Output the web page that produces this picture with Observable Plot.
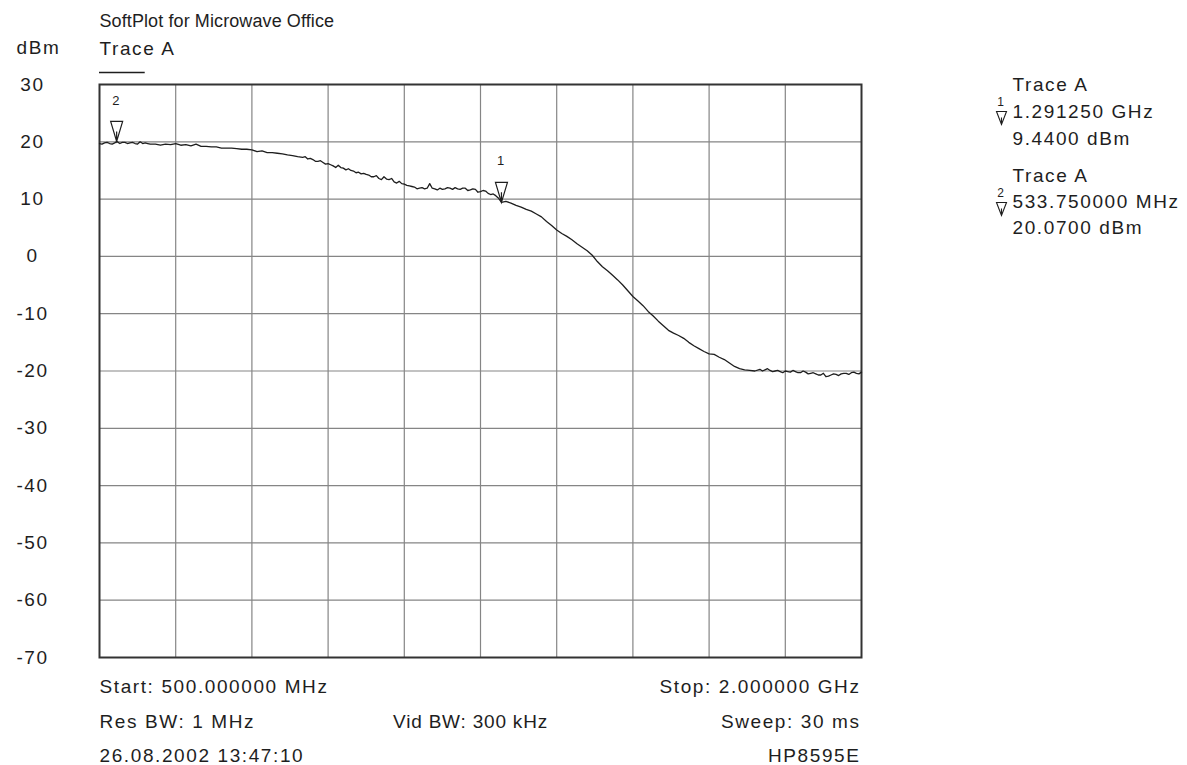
<!DOCTYPE html>
<html>
<head>
<meta charset="utf-8">
<script src="https://cdn.jsdelivr.net/npm/d3@7"></script>
<script src="https://cdn.jsdelivr.net/npm/@observablehq/plot@0.6"></script>
<style>
  html, body { margin: 0; padding: 0; background: #ffffff; }
  #chart { width: 1187px; height: 765px; }
</style>
</head>
<body>
<div id="chart"></div>
<script>
// ---------- data: [frequency MHz, level dBm] ----------
const traceSamples = [
  [500, 19.7], [505, 19.6], [510, 19.8], [515, 19.9], [520, 19.7], [525, 19.6], [530, 19.8], [533.75, 20.07],
  [540, 19.7], [545, 19.9], [550, 19.9], [555, 19.7], [560, 19.8], [565, 19.9], [570, 19.7], [575, 19.6],
  [580, 20.0], [585, 19.7], [590, 19.8], [595, 19.7],
  [600, 19.6], [610, 19.6], [620, 19.4], [630, 19.6], [640, 19.5], [650, 19.7], [660, 19.4], [670, 19.5],
  [680, 19.3], [690, 19.6], [700, 19.2], [710, 19.2], [720, 19.1], [730, 19.1], [740, 18.9], [750, 18.9],
  [760, 18.9], [770, 18.8], [780, 18.7], [790, 18.7], [800, 18.6], [810, 18.3], [820, 18.4], [830, 18.1],
  [840, 18.1], [850, 18.0], [860, 17.9], [870, 17.7], [880, 17.6], [890, 17.4], [900, 17.3], [905, 17.4],
  [910, 17.0], [915, 17.1], [920, 16.9], [925, 16.6], [930, 16.6], [935, 16.7], [940, 16.4], [945, 16.1],
  [950, 16.2], [955, 16.0], [960, 15.8], [965, 15.5], [970, 15.9], [975, 15.5], [980, 15.4], [985, 15.1],
  [990, 15.3], [995, 15.0], [1000, 14.9], [1005, 14.6], [1010, 14.7], [1015, 14.4], [1020, 14.5],
  [1025, 14.3], [1030, 14.2], [1035, 13.9], [1040, 13.9], [1045, 14.1], [1050, 13.6], [1055, 13.4],
  [1060, 13.9], [1065, 13.5], [1070, 13.4], [1075, 13.6], [1080, 13.0], [1085, 12.8], [1090, 13.1],
  [1095, 12.7], [1100, 12.6], [1105, 12.4], [1110, 12.3], [1115, 12.2], [1120, 12.1], [1125, 11.8],
  [1130, 11.9], [1135, 12.0], [1140, 11.8], [1145, 11.9], [1150, 12.7], [1155, 11.9], [1160, 11.8],
  [1165, 11.6], [1170, 11.9], [1175, 11.7], [1180, 11.8], [1185, 12.0], [1190, 11.9], [1195, 11.7],
  [1200, 12.0], [1205, 11.8], [1210, 11.7], [1215, 11.9], [1220, 11.9], [1225, 11.5], [1230, 11.6],
  [1235, 11.8], [1240, 11.7], [1245, 11.2], [1250, 11.3], [1255, 11.5], [1260, 11.4], [1265, 11.0],
  [1270, 10.8], [1275, 10.9], [1280, 10.6], [1285, 10.2], [1291.25, 9.44],
  [1300, 9.6], [1310, 9.3], [1320, 8.9], [1330, 8.6], [1340, 8.2], [1350, 7.9], [1360, 7.4], [1370, 6.9],
  [1380, 6.1], [1390, 5.4], [1400, 4.6], [1410, 4.0], [1420, 3.5], [1430, 2.9], [1440, 2.2], [1450, 1.6],
  [1460, 1.0], [1470, 0.2], [1480, -0.9], [1490, -1.8], [1500, -2.5], [1510, -3.3], [1520, -4.1],
  [1530, -5.0], [1540, -6.0], [1550, -7.0], [1560, -7.8], [1570, -8.6], [1580, -9.6], [1590, -10.4],
  [1600, -11.3], [1610, -12.1], [1620, -12.9], [1630, -13.4], [1640, -13.8], [1650, -14.3], [1660, -15.0],
  [1670, -15.6], [1680, -16.1], [1690, -16.6], [1700, -17.0], [1710, -17.1], [1720, -17.6], [1730, -18.0],
  [1740, -18.6], [1750, -19.2], [1760, -19.6], [1770, -19.8], [1780, -19.9], [1790, -20.0],
  [1800, -19.7], [1805, -20.0], [1810, -19.8], [1815, -19.6], [1820, -19.9], [1825, -20.1], [1830, -20.0],
  [1835, -19.9], [1840, -20.1], [1845, -20.3], [1850, -20.0], [1855, -20.1], [1860, -20.2], [1865, -19.9],
  [1870, -20.1], [1875, -20.3], [1880, -20.3], [1885, -20.0], [1890, -20.2], [1895, -20.5], [1900, -20.4],
  [1905, -20.3], [1910, -20.5], [1915, -20.7], [1920, -20.7], [1925, -20.4], [1930, -21.0], [1935, -20.9],
  [1940, -20.7], [1945, -20.5], [1950, -20.6], [1955, -20.8], [1960, -20.5], [1965, -20.4], [1970, -20.4],
  [1975, -20.6], [1980, -20.3], [1985, -20.2], [1990, -20.4], [1995, -20.5], [2000, -20.2]
];
const yTicks = [-70, -60, -50, -40, -30, -20, -10, 0, 10, 20, 30];
const xGridMHz = [650, 800, 950, 1100, 1250, 1400, 1550, 1700, 1850];

const markerNum = ["1", "2"];
const markerFreq = [1291.25, 533.75];
const markerLevel = [9.44, 20.07];
const markerTrace = ["Trace A", "Trace A"];
const markerFreqText = ["1.291250 GHz", "533.750000 MHz"];
const markerLevelText = ["9.4400 dBm", "20.0700 dBm"];

const titleText = "SoftPlot for Microwave Office";
const unitText = "dBm";
const traceName = "Trace A";
const footLeft = ["Start: 500.000000 MHz", "Res BW: 1 MHz", "26.08.2002 13:47:10"];
const footMid = ["", "Vid BW: 300 kHz", ""];
const footRight = ["Stop: 2.000000 GHz", "Sweep: 30 ms", "HP8595E"];

// ---------- build ----------
const trace = traceSamples.map(([f, v]) => ({f, v}));
const markers = markerNum.map((n, i) => ({n, f: markerFreq[i], v: markerLevel[i]}));

const ink = "#1e1e1e";
const markerSymbol = {
  draw(ctx) {
    ctx.moveTo(-6, -20); ctx.lineTo(6, -20); ctx.lineTo(0, 0); ctx.closePath();
    ctx.moveTo(0, -10); ctx.lineTo(0, 0);
  }
};
const legendSymbol = {
  draw(ctx) {
    ctx.moveTo(-5, -13); ctx.lineTo(5, -13); ctx.lineTo(0, 0); ctx.closePath();
    ctx.moveTo(0, -7); ctx.lineTo(0, 0);
  }
};

const footRows = [35, 70, 104];
const legendTop = [90, 181];
const legendStep = [27, 26];

const marks = [
  Plot.gridX(xGridMHz, {stroke: "#858585", strokeOpacity: 1, strokeWidth: 1.2}),
  Plot.gridY(yTicks.slice(1, -1), {stroke: "#858585", strokeOpacity: 1, strokeWidth: 1.2}),
  Plot.axisY(yTicks, {tickSize: 0, textAnchor: "middle", dx: -58, fill: ink, fontSize: 19, label: null, tickFormat: d => String(d)}),
  Plot.frame({stroke: "#333", strokeWidth: 2}),
  Plot.line(trace, {x: "f", y: "v", stroke: ink, strokeWidth: 1.3}),
  Plot.dot(markers, {x: "f", y: "v", symbol: markerSymbol, r: 6, stroke: ink, fill: "none", strokeWidth: 1.2}),
  Plot.text(markers, {x: "f", y: "v", text: "n", dy: -41, fontSize: 13, fill: ink}),
  // header
  Plot.text([titleText], {text: d => d, frameAnchor: "top-left", textAnchor: "start", lineAnchor: "bottom", dy: -58, fontSize: 18, fill: ink}),
  Plot.text([unitText], {text: d => d, frameAnchor: "top-left", textAnchor: "start", lineAnchor: "bottom", dx: -83, dy: -31, fill: ink}),
  Plot.text([traceName], {text: d => d, frameAnchor: "top-left", textAnchor: "start", lineAnchor: "bottom", dy: -30, fill: ink}),
  Plot.ruleY([30], {x1: 500, x2: 590, dy: -12, stroke: ink, strokeWidth: 1.3, clip: false}),
  // footer
  ...footRows.map((dy, i) => Plot.text([footLeft[i]], {text: d => d, frameAnchor: "bottom-left", textAnchor: "start", lineAnchor: "bottom", dy, fill: ink})),
  ...footRows.map((dy, i) => Plot.text([footMid[i]], {text: d => d, frameAnchor: "bottom", textAnchor: "middle", lineAnchor: "bottom", dy, dx: -10, fill: ink})),
  ...footRows.map((dy, i) => Plot.text([footRight[i]], {text: d => d, frameAnchor: "bottom-right", textAnchor: "end", lineAnchor: "bottom", dy, dx: -1, fill: ink})),
];

// legend for markers
markers.forEach((m, i) => {
  const top = legendTop[i] - 84;
  const step = legendStep[i];
  const lines = [markerTrace[i], markerFreqText[i], markerLevelText[i]];
  lines.forEach((t, j) => {
    marks.push(Plot.text([t], {text: d => d, frameAnchor: "top-right", textAnchor: "start", lineAnchor: "bottom", dx: 151, dy: top + j * step, fill: ink}));
  });
  marks.push(Plot.text([m.n], {text: d => d, frameAnchor: "top-right", textAnchor: "middle", lineAnchor: "middle", dx: 140, dy: top + 12, fontSize: 12, fill: ink}));
  marks.push(Plot.dot([m.n], {frameAnchor: "top-right", dx: 140, dy: top + 34, symbol: legendSymbol, r: 5, stroke: ink, fill: "none", strokeWidth: 1.1}));
});

const chart = Plot.plot({
  width: 1187,
  height: 765,
  marginLeft: 99,
  marginRight: 326,
  marginTop: 84,
  marginBottom: 108,
  x: {domain: [500, 2000], axis: null},
  y: {domain: [-70, 30], axis: null},
  style: {
    fontFamily: "'Liberation Sans', Arial, sans-serif",
    fontSize: "19px",
    letterSpacing: "1.6px",
    color: ink,
    background: "#ffffff"
  },
  marks
});
// per-text spacing tweaks to match the reference widths
d3.select(chart).selectAll("text").each(function () {
  const t = this.textContent;
  if (t === titleText) this.style.letterSpacing = "0.1px";
  if (t === "Vid BW: 300 kHz") this.style.letterSpacing = "0.8px";
});
document.getElementById("chart").appendChild(chart);
</script>
</body>
</html>
